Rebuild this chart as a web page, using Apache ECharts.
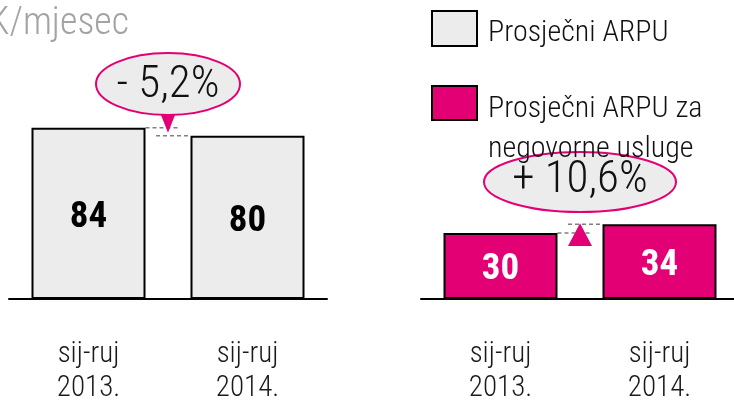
<!DOCTYPE html>
<html><head><meta charset="utf-8">
<script src="https://cdn.jsdelivr.net/npm/echarts@6/dist/echarts.min.js"></script>
<style>html,body{margin:0;padding:0;background:#fff}#c{width:734px;height:400px}</style>
</head><body><div id="c"></div>
<script>
const categories = ['sij-ruj\n2013.', 'sij-ruj\n2014.'];
const arpuTotal = [84, 80];
const arpuNonVoice = [30, 34];
const changeLabels = ['- 5,2%', '+ 10,6%'];
const seriesNames = ['Prosječni ARPU', 'Prosječni ARPU za\nnegovorne usluge'];
const unitLabel = 'HRK/mjesec';

const FONT = '"Roboto Condensed", "DejaVu Sans Condensed", sans-serif';
const MAGENTA = '#e20074';
const GREY = '#ececec';

const chart = echarts.init(document.getElementById('c'), null, {renderer: 'canvas'});

function xAxisCfg(i) {
  return {
    type: 'category', gridIndex: i, data: categories,
    axisLine: {lineStyle: {color: '#000', width: 2}},
    axisTick: {show: false},
    axisLabel: {fontFamily: FONT, fontWeight: 300, fontSize: 29, lineHeight: 34, margin: 39, color: '#1a1a1a'}
  };
}
function barSeries(i, name, data, fill, labelColor) {
  return {
    type: 'bar', name: name, xAxisIndex: i, yAxisIndex: i, data: data, barWidth: 114,
    itemStyle: {color: fill, borderColor: '#000', borderWidth: 2},
    label: {show: true, position: 'inside', offset: [0, 4], fontFamily: FONT, fontWeight: 'bold', fontSize: 37, color: labelColor},
    silent: true
  };
}

chart.setOption({
  animation: false,
  grid: [
    {left: 9, width: 318, top: 95, height: 204, outerBoundsMode: 'none', containLabel: false},
    {left: 421, width: 318, top: 79, height: 220, outerBoundsMode: 'none', containLabel: false}
  ],
  xAxis: [xAxisCfg(0), xAxisCfg(1)],
  yAxis: [
    {type: 'value', gridIndex: 0, min: 0, max: 100, show: false},
    {type: 'value', gridIndex: 1, min: 0, max: 100, show: false}
  ],
  series: [
    barSeries(0, seriesNames[0], arpuTotal, GREY, '#000'),
    barSeries(1, seriesNames[1], arpuNonVoice, MAGENTA, '#fff')
  ]
});

// pixel positions of bar tops through the library's scales
const p0a = chart.convertToPixel({seriesIndex: 0}, [0, arpuTotal[0]]);
const p0b = chart.convertToPixel({seriesIndex: 0}, [1, arpuTotal[1]]);
const p1a = chart.convertToPixel({seriesIndex: 1}, [0, arpuNonVoice[0]]);
const p1b = chart.convertToPixel({seriesIndex: 1}, [1, arpuNonVoice[1]]);

const half = 57;
const dash = {stroke: '#808080', lineWidth: 1.5, lineDash: [4, 3]};
const midL = (p0a[0] + p0b[0]) / 2;
const midR = (p1a[0] + p1b[0]) / 2;

const graphics = [
  // unit label
  {type: 'text', x: 129, y: 24, style: {text: unitLabel, fontFamily: FONT, fontWeight: 300, fontSize: 38, fill: '#a3a3a3', textAlign: 'right', textVerticalAlign: 'middle'}},
  // left change marker
  {type: 'line', shape: {x1: p0a[0] + half, y1: p0a[1], x2: midL + 12, y2: p0a[1]}, style: dash},
  {type: 'line', shape: {x1: midL - 12, y1: p0b[1], x2: p0b[0] - half, y2: p0b[1]}, style: dash},
  {type: 'polygon', shape: {points: [[midL - 9, 110], [midL + 9, 110], [midL, p0a[1] + 5]]}, style: {fill: MAGENTA}},
  {type: 'ellipse', shape: {cx: midL, cy: 84, rx: 72, ry: 31}, style: {fill: GREY, stroke: MAGENTA, lineWidth: 2}},
  {type: 'text', x: midL, y: 86, style: {text: changeLabels[0], fontFamily: FONT, fontWeight: 300, fontSize: 45, fill: '#111', textAlign: 'center', textVerticalAlign: 'middle'}},
  // right change marker
  {type: 'line', shape: {x1: midR - 12, y1: p1b[1], x2: p1b[0] - half, y2: p1b[1]}, style: dash},
  {type: 'line', shape: {x1: p1a[0] + half, y1: p1a[1], x2: midR + 12, y2: p1a[1]}, style: dash},
  {type: 'polygon', shape: {points: [[midR - 12, 246], [midR + 12, 246], [midR, p1b[1] - 1]]}, style: {fill: MAGENTA}},
  {type: 'ellipse', shape: {cx: midR, cy: 182, rx: 96, ry: 30}, style: {fill: GREY, stroke: MAGENTA, lineWidth: 2}},
  {type: 'text', x: midR, y: 181, style: {text: changeLabels[1], fontFamily: FONT, fontWeight: 300, fontSize: 45, fill: '#111', textAlign: 'center', textVerticalAlign: 'middle'}},
  // legend (drawn last so its text sits over the bubble)
  {type: 'rect', shape: {x: 432, y: 11, width: 45, height: 35}, style: {fill: GREY, stroke: '#000', lineWidth: 2}},
  {type: 'text', x: 488, y: 33, style: {text: seriesNames[0], fontFamily: FONT, fontWeight: 300, fontSize: 30, fill: '#111', textVerticalAlign: 'middle'}},
  {type: 'rect', shape: {x: 432, y: 86, width: 45, height: 34}, style: {fill: MAGENTA, stroke: '#000', lineWidth: 2}},
  {type: 'text', x: 488, y: 89, style: {text: seriesNames[1], fontFamily: FONT, fontWeight: 300, fontSize: 30, lineHeight: 40, fill: '#111'}}
];
chart.setOption({graphic: graphics});
</script>
</body></html>
